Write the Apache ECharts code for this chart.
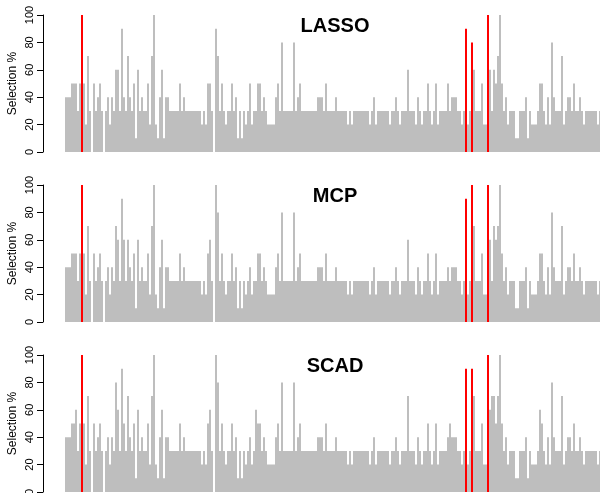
<!DOCTYPE html>
<html>
<head>
<meta charset="utf-8">
<script src="https://cdn.jsdelivr.net/npm/echarts@6/dist/echarts.min.js"></script>
<style>
html,body{margin:0;padding:0;background:#fff;}
#chart{width:600px;height:493px;}
</style>
</head>
<body>
<div id="chart"></div>
<script>
// Selection percentage per variable (bins, left to right)
const lasso = [
40,40,40,50,50,50,30,50,100,50,
20,70,30,0,50,30,40,50,30,0,
30,40,20,40,30,60,60,30,90,40,
30,70,40,30,50,10,60,30,40,30,
30,50,20,70,100,20,10,40,60,10,
40,40,30,30,30,30,30,50,30,40,
30,30,30,30,30,30,30,30,20,30,
20,50,50,30,0,90,70,30,50,30,
20,30,30,50,30,40,10,30,10,30,
20,30,50,20,30,30,50,50,30,40,
30,20,20,20,20,40,50,30,80,30,
30,30,30,30,80,30,40,50,30,30,
30,30,30,30,30,30,40,40,40,30,
50,30,30,30,30,40,30,30,30,30,
30,20,30,20,30,30,30,30,30,30,
30,30,20,30,40,20,30,30,30,30,
30,30,20,30,30,40,30,20,30,30,
30,60,30,30,30,20,40,30,20,30,
30,50,30,20,30,50,20,30,30,30,
30,50,30,40,40,40,30,30,20,30,
90,20,30,80,60,30,30,30,50,20,
20,100,60,30,60,50,70,100,50,30,
40,20,30,30,30,10,10,30,30,30,
40,10,30,20,20,20,30,50,50,30,
20,40,20,80,40,30,30,30,70,20,
30,40,40,30,50,30,30,40,30,20,
30,30,30,30,30,30,20,30
];
const mcp = [
40,40,40,50,50,50,30,50,100,50,
20,70,30,0,50,30,40,50,30,0,
30,40,20,40,30,70,60,30,90,60,
30,60,40,30,50,10,60,30,40,30,
30,50,20,70,100,20,10,40,60,10,
40,40,30,30,30,30,30,50,30,40,
30,30,30,30,30,30,30,30,20,30,
20,50,60,30,0,100,80,30,50,30,
20,30,30,50,30,40,10,30,10,30,
20,30,40,20,30,30,50,50,30,40,
30,20,20,20,20,40,50,30,80,30,
30,30,30,30,80,30,40,50,30,30,
30,30,30,30,30,30,40,40,40,30,
50,30,30,30,30,40,30,30,30,30,
30,20,30,20,30,30,30,30,30,30,
30,30,20,30,40,20,30,30,30,30,
30,30,20,30,30,40,30,20,30,30,
30,60,30,30,30,20,40,30,20,30,
30,50,30,20,30,50,20,30,30,30,
30,40,30,40,40,40,30,30,20,30,
90,20,30,100,70,30,30,30,50,20,
20,100,60,30,70,60,70,100,50,30,
40,20,30,30,30,10,10,30,30,30,
40,10,30,20,20,20,30,50,50,30,
20,40,20,80,40,30,30,30,70,20,
30,40,40,30,50,30,30,40,30,20,
30,30,30,30,30,30,20,30
];
const scad = [
40,40,40,50,50,60,30,50,100,50,
20,70,30,0,50,30,40,50,30,0,
30,40,20,40,30,80,60,30,90,50,
30,70,40,30,50,10,60,30,40,30,
30,50,20,70,100,20,10,40,60,10,
40,40,30,30,30,30,30,50,30,40,
30,30,30,30,30,30,30,30,20,30,
20,50,60,30,0,100,80,30,50,30,
20,30,30,50,30,40,10,30,10,30,
20,30,40,20,30,60,50,50,30,40,
30,20,20,20,20,40,50,30,80,30,
30,30,30,30,80,30,40,50,30,30,
30,30,30,30,30,30,40,40,40,30,
50,30,30,30,30,40,30,30,30,30,
30,20,30,20,30,30,30,30,30,30,
30,30,20,30,40,20,30,30,30,30,
30,30,20,30,30,40,30,20,30,30,
30,70,30,30,30,20,40,30,20,30,
30,50,30,20,30,50,20,30,30,30,
30,40,50,40,40,40,30,30,20,30,
90,20,30,90,70,30,30,30,50,20,
20,100,60,70,70,50,70,100,50,30,
40,20,30,30,30,10,10,30,30,30,
40,10,30,20,20,20,30,60,50,30,
20,40,20,80,40,30,30,30,70,20,
30,40,40,30,50,30,30,40,30,20,
30,30,30,30,30,30,20,30
];
// indices of the true (red) variables
const trueVars = [8, 200, 203, 211];
const panelTitles = ['LASSO', 'MCP', 'SCAD'];
const yTicks = [0, 20, 40, 60, 80, 100];

const panels = [lasso, mcp, scad];
const categories = lasso.map((_, i) => String(i + 1));

const FONT = 'Liberation Sans, Arial, Helvetica, sans-serif';
const grids = [], xAxes = [], yAxes = [], series = [], titles = [];

panels.forEach((vals, k) => {
  const top = 15 + 170 * k;
  grids.push({left: 65, width: 536, top: top, height: 137, containLabel: false, outerBoundsMode: 'none'});
  xAxes.push({
    gridIndex: k, type: 'category', data: categories, boundaryGap: true,
    axisLine: {show: false}, axisTick: {show: false}, axisLabel: {show: false}, splitLine: {show: false}
  });
  yAxes.push({
    gridIndex: k, type: 'value', min: yTicks[0], max: yTicks[yTicks.length - 1], interval: 20,
    offset: 22,
    axisLine: {show: true, lineStyle: {color: '#000', width: 1}},
    axisTick: {show: true, length: 6, lineStyle: {color: '#000', width: 1}},
    axisLabel: {rotate: 90, margin: 8, fontSize: 11, color: '#000', fontFamily: FONT},
    splitLine: {show: false},
    name: 'Selection %', nameLocation: 'middle', nameGap: 24, nameMoveOverlap: false,
    nameTextStyle: {fontSize: 12, color: '#000', fontFamily: FONT}
  });
  const greyData = vals.map((v, i) => trueVars.includes(i) ? null : v);
  const redData = vals.map((v, i) => trueVars.includes(i) ? v : null);
  series.push({
    type: 'bar', xAxisIndex: k, yAxisIndex: k, data: greyData,
    barCategoryGap: '0%', barGap: '-100%',
    itemStyle: {color: '#bebebe'}, silent: true
  });
  series.push({
    type: 'bar', xAxisIndex: k, yAxisIndex: k, data: redData,
    barCategoryGap: '0%', barGap: '-100%',
    itemStyle: {color: '#ff0000'}, silent: true, z: 3
  });
  titles.push({
    text: panelTitles[k], left: 330, top: 11 + 170 * k, textAlign: 'center',
    textStyle: {fontSize: 20, fontWeight: 'bold', color: '#000', fontFamily: FONT}
  });
});

const chart = echarts.init(document.getElementById('chart'), null, {renderer: 'canvas'});
chart.setOption({
  animation: false,
  backgroundColor: '#fff',
  title: titles,
  grid: grids,
  xAxis: xAxes,
  yAxis: yAxes,
  series: series
});
</script>
</body>
</html>
